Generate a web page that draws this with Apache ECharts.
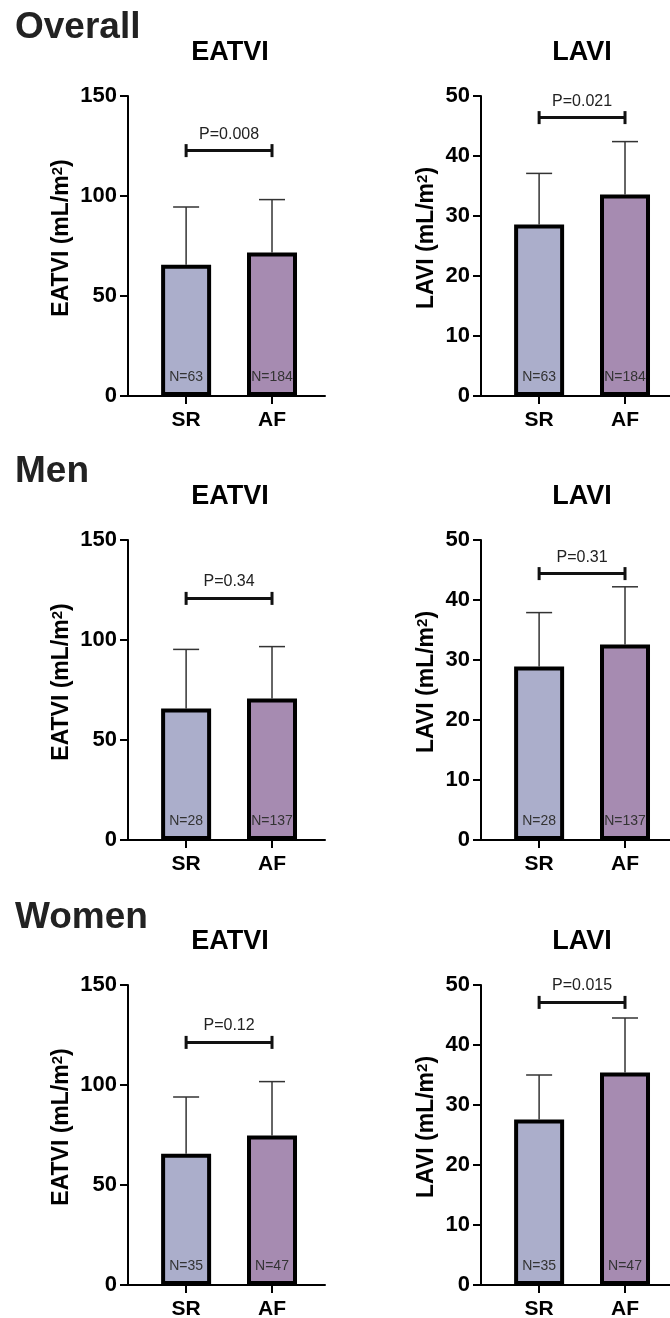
<!DOCTYPE html>
<html>
<head>
<meta charset="utf-8">
<script src="https://cdn.jsdelivr.net/npm/echarts@6/dist/echarts.min.js"></script>
<style>
html,body{margin:0;padding:0;background:#fff;}
#chart{width:670px;height:1318px;}
</style>
</head>
<body>
<div id="chart"></div>
<script>
// ---- data ----
const groups = ['Overall', 'Men', 'Women'];
const categories = ['SR', 'AF'];
const eatviMean = [[65.6, 71.8], [65.7, 70.7], [65.6, 74.8]];
const eatviSD = [[28.9, 26.4], [29.6, 26.0], [28.4, 26.9]];
const laviMean = [[28.6, 33.6], [28.9, 32.6], [27.6, 35.4]];
const laviSD = [[8.5, 8.8], [9.0, 9.6], [7.4, 9.1]];
const nCounts = [[63, 184], [28, 137], [35, 47]];
const eatviP = ['P=0.008', 'P=0.34', 'P=0.12'];
const laviP = ['P=0.021', 'P=0.31', 'P=0.015'];
const eatviBracket = [122.7, 120.8, 121.3];
const laviBracket = [46.4, 44.4, 47.1];
const eatviTicks = [0, 50, 100, 150];
const laviTicks = [0, 10, 20, 30, 40, 50];
const panelTitles = ['EATVI', 'LAVI'];
const axisNames = ['EATVI (mL/m{sup|2})', 'LAVI (mL/m{sup|2})'];

// ---- layout ----
const FONT = '"Liberation Sans", Arial, Helvetica, sans-serif';
const xPos = [0.295, 0.731];
const barColors = ['#ABAECB', '#A68BB1'];
const gridTops = [96, 540, 985];
const gridLefts = [128, 481];
const headingY = [28, 471.5, 917.5];
const titleY = [53, 496.5, 941.5];
const titleX = [230, 582];

const chart = echarts.init(document.getElementById('chart'), null, {renderer: 'canvas'});

const grid = [], xAxis = [], yAxis = [], series = [], graphic = [];

groups.forEach((g, r) => {
  graphic.push({type: 'text', x: 15, y: headingY[r],
    style: {text: g, font: 'bold 37px ' + FONT, fill: '#222', align: 'left', verticalAlign: 'middle'}});
  [0, 1].forEach(c => {
    const idx = r * 2 + c;
    const isE = c === 0;
    const mean = isE ? eatviMean[r] : laviMean[r];
    const sd = isE ? eatviSD[r] : laviSD[r];
    const ticks = isE ? eatviTicks : laviTicks;
    const pText = isE ? eatviP[r] : laviP[r];
    const bY = isE ? eatviBracket[r] : laviBracket[r];

    graphic.push({type: 'text', x: titleX[c], y: titleY[r],
      style: {text: panelTitles[c], font: 'bold 27px ' + FONT, fill: '#000', align: 'center', verticalAlign: 'middle'}});

    grid.push({left: gridLefts[c], top: gridTops[r], width: 197, height: 300,
      containLabel: false, outerBoundsMode: 'none'});
    xAxis.push({
      type: 'value', gridIndex: idx, min: 0, max: 1,
      splitLine: {show: false},
      axisLine: {show: true, onZero: false, lineStyle: {color: '#000', width: 2}},
      axisTick: {show: true, customValues: xPos, length: 8, lineStyle: {color: '#000', width: 2}},
      axisLabel: {show: true, customValues: xPos, margin: 14,
        formatter: v => {
          let best = 0;
          xPos.forEach((p, i) => { if (Math.abs(p - v) < Math.abs(xPos[best] - v)) best = i; });
          return categories[best];
        },
        fontFamily: FONT, fontWeight: 'bold', fontSize: 21, color: '#000'}
    });
    yAxis.push({
      type: 'value', gridIndex: idx, min: ticks[0], max: ticks[ticks.length - 1],
      interval: ticks[1] - ticks[0],
      splitLine: {show: false},
      axisLine: {show: true, lineStyle: {color: '#000', width: 2}},
      axisTick: {show: true, length: 8, lineStyle: {color: '#000', width: 2}},
      axisLabel: {margin: 11, fontFamily: FONT, fontWeight: 'bold', fontSize: 22, color: '#000'},
      name: axisNames[c], nameLocation: 'middle', nameGap: isE ? 55 : 43,
      nameMoveOverlap: false,
      nameTextStyle: {fontFamily: FONT, fontWeight: 'bold', fontSize: 23, color: '#000', padding: [0, 0, 0, 16],
        rich: {sup: {fontFamily: FONT, fontWeight: 'bold', fontSize: 15, color: '#000', verticalAlign: 'top'}}}
    });

    series.push({
      type: 'bar', xAxisIndex: idx, yAxisIndex: idx, barWidth: 50, z: 3,
      data: mean.map((m, i) => ({value: [xPos[i], m], itemStyle: {color: barColors[i]}})),
      itemStyle: {borderColor: '#000', borderWidth: 4},
      label: {show: true, position: 'insideBottom', distance: 12,
        formatter: p => 'N=' + nCounts[r][p.dataIndex],
        fontFamily: FONT, fontSize: 14, color: '#333'},
      silent: true
    });

    series.push({
      type: 'custom', xAxisIndex: idx, yAxisIndex: idx, z: 2, silent: true,
      data: mean.map((m, i) => [xPos[i], m, m + sd[i]]),
      renderItem: (params, api) => {
        const p0 = api.coord([api.value(0), api.value(1)]);
        const p1 = api.coord([api.value(0), api.value(2)]);
        const st = {stroke: '#333', lineWidth: 1.5};
        return {type: 'group', children: [
          {type: 'line', shape: {x1: p0[0], y1: p0[1], x2: p1[0], y2: p1[1]}, style: st},
          {type: 'line', shape: {x1: p1[0] - 13, y1: p1[1], x2: p1[0] + 13, y2: p1[1]}, style: st}
        ]};
      }
    });

    series.push({
      type: 'custom', xAxisIndex: idx, yAxisIndex: idx, z: 4, silent: true,
      data: [[xPos[0], xPos[1], bY]],
      renderItem: (params, api) => {
        const a = api.coord([api.value(0), api.value(2)]);
        const b = api.coord([api.value(1), api.value(2)]);
        const st = {stroke: '#111', lineWidth: 3};
        return {type: 'group', children: [
          {type: 'line', shape: {x1: a[0], y1: a[1], x2: b[0], y2: b[1]}, style: st},
          {type: 'line', shape: {x1: a[0], y1: a[1] - 6.5, x2: a[0], y2: a[1] + 6.5}, style: st},
          {type: 'line', shape: {x1: b[0], y1: b[1] - 6.5, x2: b[0], y2: b[1] + 6.5}, style: st},
          {type: 'text', x: (a[0] + b[0]) / 2, y: a[1] - 16.5,
            style: {text: pText, font: '16px ' + FONT, fill: '#222', align: 'center', verticalAlign: 'middle'}}
        ]};
      }
    });
  });
});

chart.setOption({
  animation: false,
  backgroundColor: '#fff',
  grid, xAxis, yAxis, series, graphic
});
</script>
</body>
</html>
